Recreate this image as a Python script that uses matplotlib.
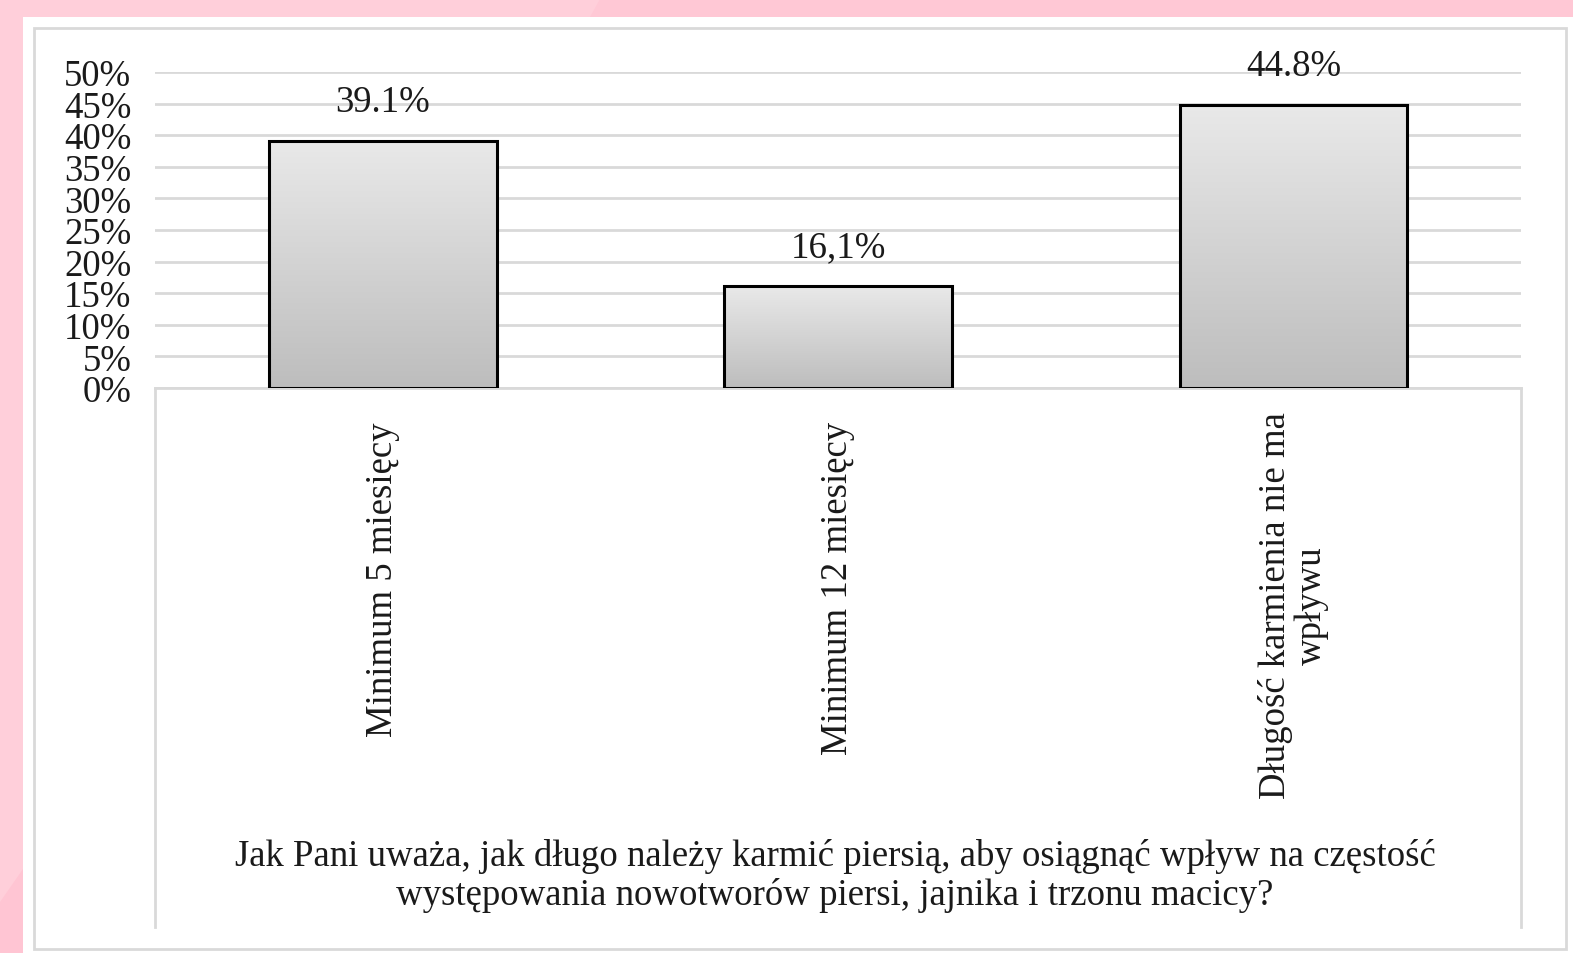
import matplotlib
matplotlib.use("Agg")
import matplotlib.pyplot as plt
import numpy as np
from matplotlib.patches import Rectangle, Polygon
from matplotlib.lines import Line2D
from matplotlib.colors import LinearSegmentedColormap

categories = ["Minimum 5 miesięcy", "Minimum 12 miesięcy", "Długość karmienia nie ma\nwpływu"]
values = [39.1, 16.1, 44.8]
value_labels = ["39.1%", "16,1%", "44.8%"]
yticks = [0, 5, 10, 15, 20, 25, 30, 35, 40, 45, 50]
ytick_labels = [f"{t}%" for t in yticks]
title = ("Jak Pani uważa, jak długo należy karmić piersią, aby osiągnąć wpływ na częstość\n"
         "występowania nowotworów piersi, jajnika i trzonu macicy?")

W, H = 1573, 954
FS = 26.5
fig = plt.figure(figsize=(W / 100, H / 100), dpi=100)
fig.patch.set_facecolor("#FFCFDA")
plt.rcParams["font.family"] = ["Liberation Serif", "DejaVu Serif"]

def fx(x):
    return x / W

def fy(y):
    return 1 - y / H

# background decoration (darker diagonal at bottom-left)
fig.patches.append(Polygon([(fx(0), fy(903)), (fx(23), fy(870)), (fx(23), fy(954)), (fx(0), fy(954))],
                           closed=True, transform=fig.transFigure, facecolor="#FFC5D3", edgecolor="none", zorder=0))
# top strip slightly darker at right
fig.patches.append(Polygon([(fx(600), fy(0)), (fx(W), fy(0)), (fx(W), fy(18)), (fx(590), fy(18))],
                           closed=True, transform=fig.transFigure, facecolor="#FFC8D5", edgecolor="none", zorder=0))
# white panel
fig.patches.append(Rectangle((fx(23), fy(954)), fx(W - 23), (954 - 18) / H, transform=fig.transFigure,
                             facecolor="white", edgecolor="none", zorder=0.5))
# chart border
fig.patches.append(Rectangle((fx(34), fy(950)), fx(1566 - 34), (950 - 29) / H, transform=fig.transFigure,
                             facecolor="white", edgecolor="#D9D9D9", linewidth=2, zorder=0.6))

left, right, top, bottom = 155, 1521, 73, 389
ax = fig.add_axes([fx(left), fy(bottom), fx(right - left), (bottom - top) / H])
ax.set_facecolor("none")
ax.set_zorder(2)

x = np.arange(len(categories))
bars = ax.bar(x, values, width=0.5, facecolor="none", edgecolor="black", linewidth=2.2, zorder=3)

grad = np.linspace(0, 1, 256).reshape(-1, 1)
cmap = LinearSegmentedColormap.from_list("g", ["#BDBDBD", "#E9E9E9"])
for b in bars:
    x0, w, h = b.get_x(), b.get_width(), b.get_height()
    im = ax.imshow(grad, extent=[x0, x0 + w, 0, h], origin="lower", aspect="auto", cmap=cmap, zorder=2)
    im.set_clip_path(b)

for xi, v, lab in zip(x, values, value_labels):
    ax.annotate(lab, (xi, v), xytext=(0, 16), textcoords="offset points", ha="center", va="bottom",
                fontsize=FS, color="#1a1a1a")

ax.set_xlim(-0.5, len(categories) - 0.5)
ax.set_ylim(0, 50)
ax.set_yticks(yticks)
ax.set_yticklabels(ytick_labels, fontsize=FS, color="#1a1a1a")
ax.tick_params(axis="y", length=0, pad=17)
ax.yaxis.grid(True, color="#D9D9D9", linewidth=2)
ax.set_axisbelow(True)
for s in ax.spines.values():
    s.set_visible(False)
ax.set_xticks([])

# category axis box
lc = "#D9D9D9"
fig.lines.append(Line2D([fx(left), fx(right)], [fy(389), fy(389)], transform=fig.transFigure, color=lc, lw=2, zorder=1))
fig.lines.append(Line2D([fx(left), fx(left)], [fy(389), fy(928)], transform=fig.transFigure, color=lc, lw=2, zorder=1))
fig.lines.append(Line2D([fx(right), fx(right)], [fy(389), fy(928)], transform=fig.transFigure, color=lc, lw=2, zorder=1))

offsets = [-24, -24, -17]
for xi, cat, off in zip(x, categories, offsets):
    ax.annotate(cat, (xi, 0), xycoords="data", xytext=(0, off), textcoords="offset points",
                rotation=90, ha="center", va="top", fontsize=FS, color="#1a1a1a",
                multialignment="center", linespacing=1.08, annotation_clip=False)

fig.text(fx(835), fy(876), title, ha="center", va="center", fontsize=FS, color="#1a1a1a",
         linespacing=1.15)

fig.savefig("out.png", dpi=100, facecolor=fig.get_facecolor())
